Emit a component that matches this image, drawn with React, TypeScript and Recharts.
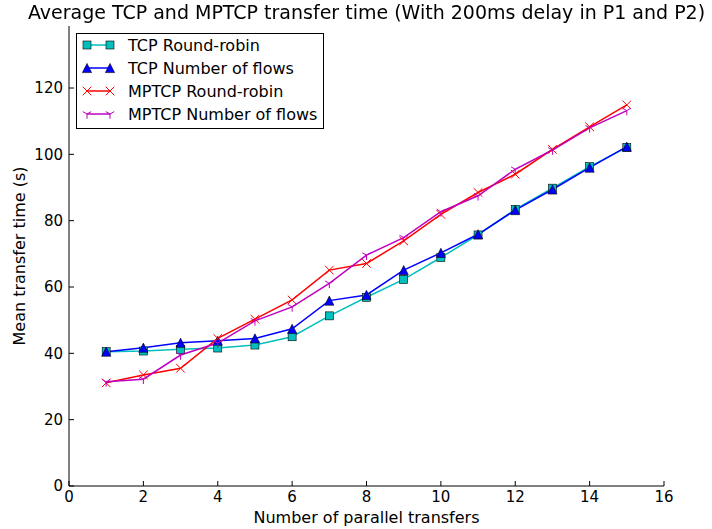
import { LineChart, Line, XAxis, YAxis } from "recharts";

const transfers = [1, 2, 3, 4, 5, 6, 7, 8, 9, 10, 11, 12, 13, 14, 15];
const tcpRoundRobin = [40.5, 40.7, 41.2, 41.6, 42.5, 45.0, 51.3, 56.9, 62.3, 68.9, 75.7, 83.4, 89.8, 96.3, 102.1];
const tcpNumFlows = [40.5, 41.7, 43.2, 43.8, 44.5, 47.4, 55.9, 57.6, 65.1, 70.3, 75.9, 83.2, 89.4, 96.0, 102.3];
const mptcpRoundRobin = [31.1, 33.5, 35.5, 44.5, 50.3, 56.1, 65.1, 67.1, 73.9, 81.9, 88.5, 94.0, 101.5, 108.3, 114.9];
const mptcpNumFlows = [31.4, 32.2, 39.5, 43.1, 49.8, 54.0, 61.1, 69.6, 74.9, 82.7, 87.5, 95.5, 101.3, 108.0, 113.2];

const xTicks = [0, 2, 4, 6, 8, 10, 12, 14, 16];
const yTicks = [0, 20, 40, 60, 80, 100, 120];
const Y_MAX = 138.7;

const data = transfers.map((n, i) => ({
  n,
  tcpRR: tcpRoundRobin[i],
  tcpNF: tcpNumFlows[i],
  mpRR: mptcpRoundRobin[i],
  mpNF: mptcpNumFlows[i],
}));

const FONT = "'DejaVu Sans', sans-serif";
const CYAN = "#00bfbf";
const BLUE = "#0000ff";
const RED = "#ff0000";
const MAGENTA = "#bf00bf";

// markers
const Square = ({ cx, cy }: any) => (
  <rect x={cx - 4} y={cy - 4} width={8} height={8} fill={CYAN} stroke="#000" strokeWidth={0.6} />
);
const Triangle = ({ cx, cy }: any) => (
  <polygon
    points={`${cx},${cy - 4.6} ${cx - 4.6},${cy + 4.6} ${cx + 4.6},${cy + 4.6}`}
    fill={BLUE}
    stroke="#000"
    strokeWidth={0.6}
  />
);
const Cross = ({ cx, cy }: any) => (
  <g stroke={RED} strokeWidth={1}>
    <line x1={cx - 4.3} y1={cy - 4.3} x2={cx + 4.3} y2={cy + 4.3} />
    <line x1={cx - 4.3} y1={cy + 4.3} x2={cx + 4.3} y2={cy - 4.3} />
  </g>
);
const TriDown = ({ cx, cy }: any) => (
  <g stroke={MAGENTA} strokeWidth={1}>
    <line x1={cx} y1={cy} x2={cx} y2={cy + 4.8} />
    <line x1={cx} y1={cy} x2={cx - 4.2} y2={cy - 2.4} />
    <line x1={cx} y1={cy} x2={cx + 4.2} y2={cy - 2.4} />
  </g>
);

const dotOf = (Marker: any) => (props: any) =>
  <Marker key={`d-${props.index}`} cx={props.cx} cy={props.cy} />;

const BottomTick = ({ x, y, payload }: any) => (
  <g>
    <line x1={x} x2={x} y1={y} y2={y - 5} stroke="#000" />
    <text x={x} y={y + 5} dy="0.75em" textAnchor="middle" fontSize={15} fontFamily={FONT} fill="#000">
      {payload.value}
    </text>
  </g>
);
const TopTick = ({ x, y }: any) => <line x1={x} x2={x} y1={y} y2={y + 5} stroke="#000" />;
const LeftTick = ({ x, y, payload }: any) => (
  <g>
    <line x1={x} x2={x + 5} y1={y} y2={y} stroke="#000" />
    <text x={x - 6} y={y} dy="0.36em" textAnchor="end" fontSize={15} fontFamily={FONT} fill="#000">
      {payload.value}
    </text>
  </g>
);
const RightTick = ({ x, y }: any) => <line x1={x - 5} x2={x} y1={y} y2={y} stroke="#000" />;

const legendItems = [
  { name: "TCP Round-robin", color: CYAN, Marker: Square },
  { name: "TCP Number of flows", color: BLUE, Marker: Triangle },
  { name: "MPTCP Round-robin", color: RED, Marker: Cross },
  { name: "MPTCP Number of flows", color: MAGENTA, Marker: TriDown },
];

export default function App() {
  return (
    <div style={{ position: "fixed", left: 0, top: 0, width: 712, height: 529, background: "#fff", fontFamily: FONT }}>
      <LineChart width={712} height={529} data={data} margin={{ top: 26, right: 48, bottom: 0, left: 0 }}>
        <XAxis
          dataKey="n"
          type="number"
          domain={[0, 16]}
          ticks={xTicks}
          height={43}
          tickSize={0}
          tickMargin={0}
          tickLine={false}
          axisLine={{ stroke: "#000" }}
          tick={BottomTick}
          interval={0}
        />
        <XAxis
          xAxisId="top"
          orientation="top"
          type="number"
          domain={[0, 16]}
          ticks={xTicks}
          height={0}
          tickSize={0}
          tickMargin={0}
          tickLine={false}
          axisLine={{ stroke: "#000" }}
          tick={TopTick}
          interval={0}
        />
        <YAxis
          type="number"
          domain={[0, Y_MAX]}
          ticks={yTicks}
          width={69}
          tickSize={0}
          tickMargin={0}
          tickLine={false}
          axisLine={{ stroke: "#000" }}
          tick={LeftTick}
          interval={0}
          allowDataOverflow
        />
        <YAxis
          yAxisId="right"
          orientation="right"
          type="number"
          domain={[0, Y_MAX]}
          ticks={yTicks}
          width={0}
          tickSize={0}
          tickMargin={0}
          tickLine={false}
          axisLine={{ stroke: "#000" }}
          tick={RightTick}
          interval={0}
          allowDataOverflow
        />
        <Line dataKey="tcpRR" stroke={CYAN} strokeWidth={1.5} dot={dotOf(Square)} isAnimationActive={false} />
        <Line dataKey="tcpNF" stroke={BLUE} strokeWidth={1.5} dot={dotOf(Triangle)} isAnimationActive={false} />
        <Line dataKey="mpRR" stroke={RED} strokeWidth={1.5} dot={dotOf(Cross)} isAnimationActive={false} />
        <Line dataKey="mpNF" stroke={MAGENTA} strokeWidth={1.5} dot={dotOf(TriDown)} isAnimationActive={false} />
      </LineChart>

      <div style={{ position: "absolute", left: 0, width: 733, top: 1, textAlign: "center", fontSize: 19, lineHeight: "22px", color: "#000" }}>
        Average TCP and MPTCP transfer time (With 200ms delay in P1 and P2)
      </div>
      <div style={{ position: "absolute", left: 69, width: 595, top: 508, textAlign: "center", fontSize: 16, lineHeight: "20px", color: "#000" }}>
        Number of parallel transfers
      </div>
      <div
        style={{
          position: "absolute",
          left: 20,
          top: 256,
          transform: "translate(-50%, -50%) rotate(-90deg)",
          whiteSpace: "nowrap",
          fontSize: 16,
          lineHeight: "20px",
          color: "#000",
        }}
      >
        Mean transfer time (s)
      </div>

      <svg style={{ position: "absolute", left: 76, top: 33 }} width={248} height={96}>
        <rect x={0.5} y={0.5} width={247} height={95} fill="#fff" stroke="#000" strokeWidth={1} />
        {legendItems.map((it, i) => {
          const cy = 12 + i * 23;
          const M = it.Marker;
          return (
            <g key={it.name}>
              <line x1={11} x2={34} y1={cy} y2={cy} stroke={it.color} strokeWidth={1.5} />
              <M cx={11} cy={cy} />
              <M cx={34} cy={cy} />
              <text x={52} y={cy} dy="0.36em" fontSize={16} fontFamily={FONT} fill="#000">
                {it.name}
              </text>
            </g>
          );
        })}
      </svg>
    </div>
  );
}
